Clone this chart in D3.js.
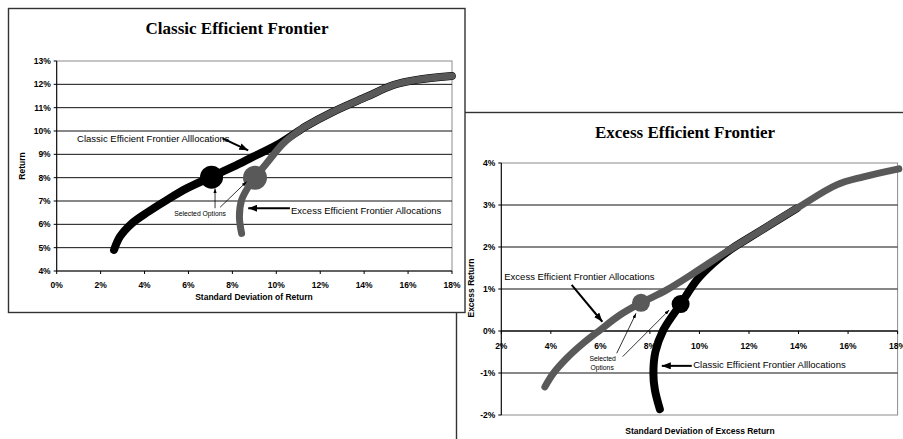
<!DOCTYPE html>
<html>
<head>
<meta charset="utf-8">
<script src="https://cdn.jsdelivr.net/npm/d3@7"></script>
<style>
  html, body { margin: 0; padding: 0; background: #fff; }
  svg { display: block; }
  text { font-family: Arial, "Liberation Sans", sans-serif; fill: #000; }
  .title { font-family: "Times New Roman", "Liberation Serif", serif; font-weight: bold; font-size: 17px; }
  .tick { font-weight: bold; font-size: 8.5px; }
  .axtitle { font-weight: bold; font-size: 8.5px; }
  .note { font-size: 9.5px; }
  .small { font-size: 6.8px; }
</style>
</head>
<body>
<svg id="chart" width="903" height="439"></svg>
<script>
// ---- Classic efficient frontier panel (risk / return, %) ----
const classicTitle = "Classic Efficient Frontier";
const classicXTicks = [0, 2, 4, 6, 8, 10, 12, 14, 16, 18];
const classicYTicks = [4, 5, 6, 7, 8, 9, 10, 11, 12, 13];

// classic frontier allocations, plotted in return space
const cfSd  = [2.61, 2.88, 3.42, 4.17, 5.01, 5.92, 7.06, 8.04, 8.95, 10.02, 11.08, 11.31, 12.60, 14.12, 15.33, 16.39, 17.99];
const cfRet = [4.90, 5.47, 6.04, 6.54, 7.04, 7.54, 8.04, 8.47, 8.90, 9.40, 10.04, 10.18, 10.83, 11.47, 11.97, 12.19, 12.36];
// excess frontier allocations, plotted in return space
const efSd  = [8.42, 8.32, 8.42, 8.73, 9.03, 9.56, 10.32, 11.08, 11.31, 12.60, 14.12, 15.33, 16.39, 17.99];
const efRet = [5.61, 6.33, 7.04, 7.61, 8.00, 8.62, 9.47, 10.04, 10.18, 10.83, 11.47, 11.97, 12.19, 12.36];
// selected options (classic, excess)
const selClassicSd = [7.05, 9.03];
const selClassicRet = [8.02, 8.00];

// ---- Excess efficient frontier panel (tracking risk / excess return, %) ----
const excessTitle = "Excess Efficient Frontier";
const excessXTicks = [2, 4, 6, 8, 10, 12, 14, 16, 18];
const excessYTicks = [-2, -1, 0, 1, 2, 3, 4];

// excess frontier allocations, plotted in excess-return space
const exEfSd  = [3.76, 4.10, 4.64, 5.31, 5.98, 6.79, 7.64, 8.68, 9.75, 11.10, 12.31, 13.93, 15.54, 16.62, 18.05];
const exEfRet = [-1.33, -1.01, -0.65, -0.29, 0.02, 0.38, 0.67, 0.98, 1.37, 1.89, 2.33, 2.92, 3.48, 3.67, 3.86];
// classic frontier allocations, plotted in excess-return space
const exCfSd  = [8.40, 8.20, 8.14, 8.22, 8.54, 9.24, 9.89, 10.56, 11.23, 12.31, 13.93];
const exCfRet = [-1.86, -1.40, -1.01, -0.50, 0.02, 0.64, 1.21, 1.61, 1.93, 2.33, 2.92];
// selected options (excess, classic)
const selExcessSd = [7.64, 9.24];
const selExcessRet = [0.67, 0.64];

const BLACK = "#000", GREY = "#595959";
const svg = d3.select("#chart");

const defs = svg.append("defs");
function marker(id, len, wid) {
  defs.append("marker")
    .attr("id", id).attr("markerUnits", "userSpaceOnUse")
    .attr("viewBox", `0 0 ${len} ${wid}`)
    .attr("refX", len).attr("refY", wid / 2)
    .attr("markerWidth", len).attr("markerHeight", wid)
    .attr("orient", "auto")
    .append("path").attr("d", `M0,0L${len},${wid / 2}L0,${wid}Z`).attr("fill", "#000");
}
marker("bigHead", 9, 7);
marker("smallHead", 5, 3.5);

function drawPanel(g, cfg) {
  const { x, y, xTicks, yTicks, xAxisAt } = cfg;
  const [x0, x1] = x.range();
  const [yb, yt] = y.range();

  g.append("rect").attr("x", cfg.box[0]).attr("y", cfg.box[1])
    .attr("width", cfg.box[2]).attr("height", cfg.box[3])
    .attr("fill", "#fff").attr("stroke", "#333").attr("stroke-width", 1.4);

  // plot frame
  g.append("rect").attr("x", x0).attr("y", yt).attr("width", x1 - x0).attr("height", yb - yt)
    .attr("fill", "none").attr("stroke", "#8c8c8c").attr("stroke-width", 1);

  // horizontal gridlines
  g.selectAll(null).data(yTicks.filter(d => d !== y.domain()[0] && d !== y.domain()[1]))
    .join("line")
    .attr("x1", x0).attr("x2", x1).attr("y1", d => y(d)).attr("y2", d => y(d))
    .attr("stroke", "#111").attr("stroke-width", 1);

  // y axis
  g.append("line").attr("x1", x0).attr("x2", x0).attr("y1", yt).attr("y2", yb)
    .attr("stroke", "#000");
  g.selectAll(null).data(yTicks).join("line")
    .attr("x1", x0 - 3).attr("x2", x0).attr("y1", d => y(d)).attr("y2", d => y(d))
    .attr("stroke", "#000");
  g.selectAll(null).data(yTicks).join("text").attr("class", "tick")
    .attr("x", x0 - 6).attr("y", d => y(d)).attr("dy", "0.35em")
    .attr("text-anchor", "end").text(d => d + "%");

  // x axis
  const ya = y(xAxisAt);
  g.append("line").attr("x1", x0).attr("x2", x1).attr("y1", ya).attr("y2", ya)
    .attr("stroke", "#000");
  g.selectAll(null).data(xTicks).join("line")
    .attr("x1", d => x(d)).attr("x2", d => x(d)).attr("y1", ya).attr("y2", ya + 3)
    .attr("stroke", "#000");
  g.selectAll(null).data(xTicks).join("text").attr("class", "tick")
    .attr("x", d => x(d)).attr("y", ya + cfg.xLabelOffset).attr("dy", "0.35em")
    .attr("text-anchor", "middle").text(d => d + "%");

  g.append("text").attr("class", "title").attr("x", cfg.titlePos[0]).attr("y", cfg.titlePos[1])
    .attr("text-anchor", "middle").text(cfg.title);
  g.append("text").attr("class", "axtitle").attr("x", cfg.xTitlePos[0]).attr("y", cfg.xTitlePos[1])
    .attr("dy", "0.35em").attr("text-anchor", "middle").text(cfg.xTitle);
  g.append("text").attr("class", "axtitle")
    .attr("transform", `translate(${cfg.yTitlePos[0]},${cfg.yTitlePos[1]}) rotate(-90)`)
    .attr("dy", "0.35em").attr("text-anchor", "middle").text(cfg.yTitle);
}

function curve(g, x, y, xs, ys, color, width) {
  const line = d3.line().x(d => x(d[0])).y(d => y(d[1])).curve(d3.curveCatmullRom.alpha(0.5));
  g.append("path").datum(d3.zip(xs, ys)).attr("d", line)
    .attr("fill", "none").attr("stroke", color).attr("stroke-width", width)
    .attr("stroke-linecap", "round").attr("stroke-linejoin", "round");
}

function dot(g, x, y, sd, ret, color, r) {
  g.append("circle").attr("cx", x(sd)).attr("cy", y(ret)).attr("r", r).attr("fill", color);
}

function arrow(g, x, y, from, to, big) {
  g.append("line")
    .attr("x1", x(from[0])).attr("y1", y(from[1]))
    .attr("x2", x(to[0])).attr("y2", y(to[1]))
    .attr("stroke", "#000").attr("stroke-width", big ? 2 : 0.8)
    .attr("marker-end", big ? "url(#bigHead)" : "url(#smallHead)");
}

function label(g, x, y, pos, text, cls, anchor) {
  g.append("text").attr("class", cls).attr("x", x(pos[0])).attr("y", y(pos[1]))
    .attr("dy", "0.35em").attr("text-anchor", anchor || "start").text(text);
}

// ===== Excess panel (drawn first, sits behind) =====
const xR = d3.scaleLinear([2, 18], [501.3, 897.6]);
const yR = d3.scaleLinear([-2, 4], [415, 163]);
const gR = svg.append("g");
drawPanel(gR, {
  x: xR, y: yR, xTicks: excessXTicks, yTicks: excessYTicks, xAxisAt: 0,
  box: [456.5, 112.5, 460, 340], xLabelOffset: 15,
  title: excessTitle, titlePos: [685, 137.5],
  xTitle: "Standard Deviation of Excess Return", xTitlePos: [700, 431],
  yTitle: "Excess Return", yTitlePos: [471, 288]
});
curve(gR, xR, yR, exCfSd, exCfRet, BLACK, 8);
curve(gR, xR, yR, exEfSd, exEfRet, GREY, 7);
dot(gR, xR, yR, selExcessSd[0], selExcessRet[0], GREY, 9);
dot(gR, xR, yR, selExcessSd[1], selExcessRet[1], BLACK, 9);
label(gR, xR, yR, [2.12, 1.29], "Excess Efficient Frontier Allocations", "note");
arrow(gR, xR, yR, [4.84, 1.10], [6.08, 0.22], true);
label(gR, xR, yR, [6.09, -0.66], "Selected", "small", "middle");
label(gR, xR, yR, [6.07, -0.87], "Options", "small", "middle");
arrow(gR, xR, yR, [6.66, -0.53], [7.44, 0.42], false);
arrow(gR, xR, yR, [6.90, -0.61], [8.78, 0.50], false);
label(gR, xR, yR, [9.75, -0.79], "Classic Efficient Frontier Alllocations", "note");
arrow(gR, xR, yR, [9.69, -0.83], [8.48, -0.83], true);

// ===== Classic panel (on top) =====
const xL = d3.scaleLinear([0, 18], [56.7, 452]);
const yL = d3.scaleLinear([4, 13], [271, 61]);
const gL = svg.append("g");
drawPanel(gL, {
  x: xL, y: yL, xTicks: classicXTicks, yTicks: classicYTicks, xAxisAt: 4,
  box: [8.5, 8.5, 456.5, 304], xLabelOffset: 14,
  title: classicTitle, titlePos: [237, 34],
  xTitle: "Standard Deviation of Return", xTitlePos: [254, 297.5],
  yTitle: "Return", yTitlePos: [22, 166]
});
curve(gL, xL, yL, cfSd, cfRet, BLACK, 8);
curve(gL, xL, yL, efSd, efRet, GREY, 7);
dot(gL, xL, yL, selClassicSd[0], selClassicRet[0], BLACK, 11.5);
dot(gL, xL, yL, selClassicSd[1], selClassicRet[1], GREY, 12);
label(gL, xL, yL, [0.93, 9.66], "Classic Efficient Frontier Alllocations", "note");
arrow(gL, xL, yL, [7.55, 9.68], [8.72, 9.17], true);
label(gL, xL, yL, [6.53, 6.48], "Selected Options", "small", "middle");
arrow(gL, xL, yL, [7.21, 6.69], [7.21, 7.54], false);
arrow(gL, xL, yL, [7.44, 6.73], [8.65, 7.83], false);
label(gL, xL, yL, [10.67, 6.57], "Excess Efficient Frontier Allocations", "note");
arrow(gL, xL, yL, [10.62, 6.69], [8.72, 6.69], true);
</script>
</body>
</html>
